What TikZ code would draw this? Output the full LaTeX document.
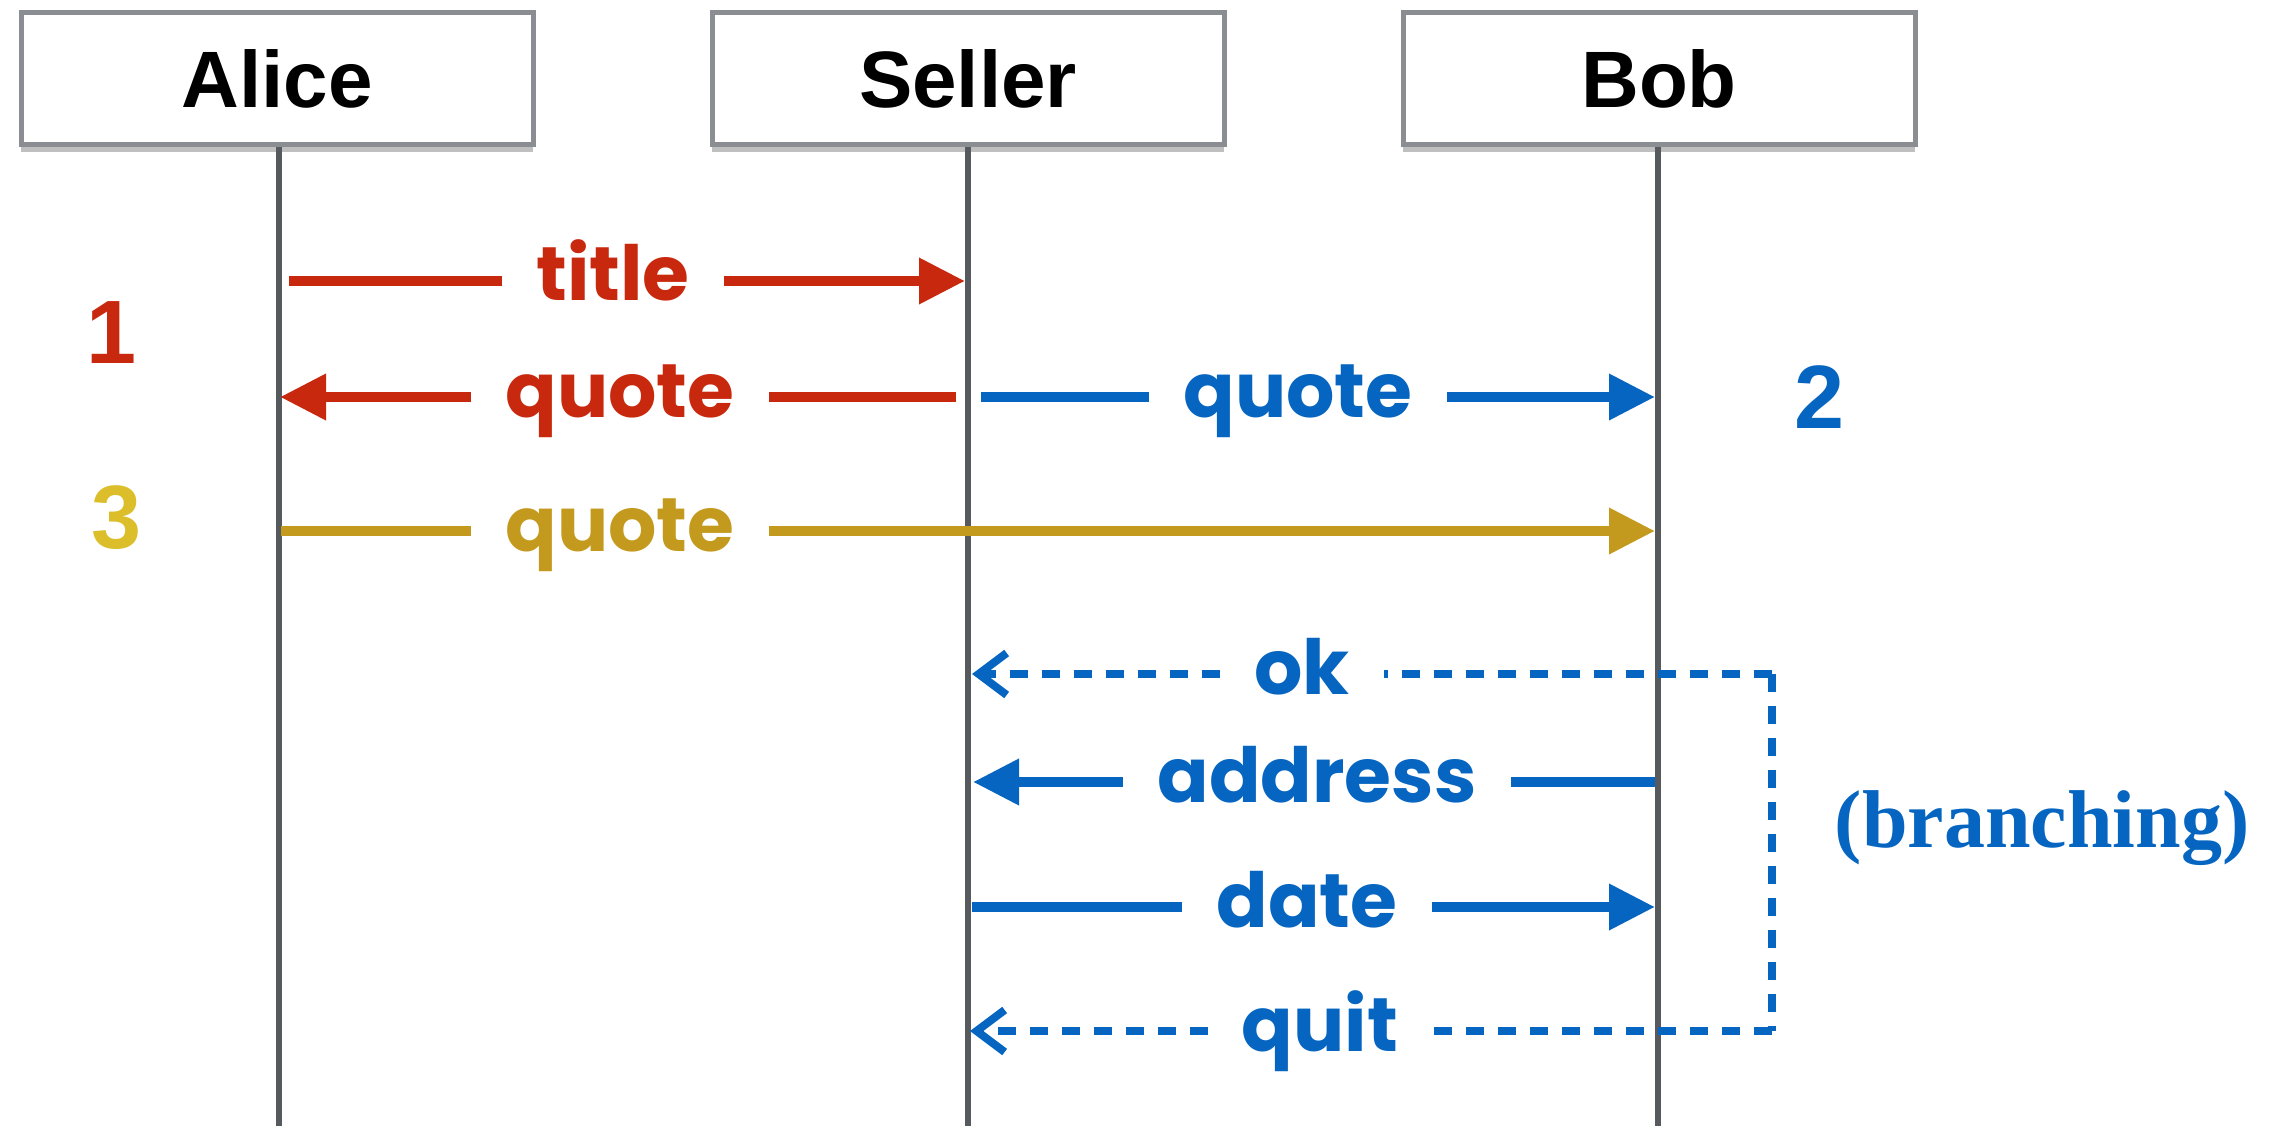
\documentclass[tikz,border=0pt]{standalone}
\usepackage{fontspec}
\setmainfont{Liberation Sans}
\newfontfamily\lblfont{Poppins}
\newfontfamily\brfont{Liberation Serif}
\usetikzlibrary{arrows.meta,shadows,calc}
\definecolor{cred}{HTML}{C8290E}
\definecolor{cblue}{HTML}{0565C0}
\definecolor{cgold}{HTML}{C49A1E}
\definecolor{cyel}{HTML}{DCBE2A}
\definecolor{cline}{HTML}{565A5F}
\definecolor{cbox}{HTML}{8A8D91}
\begin{document}
\begin{tikzpicture}[x=1pt,y=-1pt,
  actor/.style={draw=cbox, line width=5pt, fill=white, minimum width=512pt, minimum height=132pt, inner sep=0pt,
    font=\fontsize{80}{80}\selectfont\bfseries,
    drop shadow={shadow xshift=0pt, shadow yshift=-7pt, opacity=0.25, fill=black}},
  life/.style={draw=cline, line width=6pt},
  msg/.style={line width=10pt},
  solidtip/.style={-{Triangle[length=46pt,width=44pt]}},
  dashmsg/.style={line width=8pt, dash pattern=on 18pt off 14pt},
  opentip/.style={-{Straight Barb[length=28pt,width=42pt]}},
  lbl/.style={inner xsep=34pt, inner ysep=0pt, anchor=base, font=\lblfont\bfseries\fontsize{76}{76}\selectfont},
  num/.style={font=\fontsize{90}{90}\selectfont\bfseries},
]
\useasboundingbox (0,0) rectangle (2287,1126);

% actors
\node[actor] (alice) at (277,79) {Alice};
\node[actor] (seller) at (968,79) {Seller};
\node[actor] (bob) at (1659,79) {Bob};

% lifelines
\coordinate (aend) at (279,1126);
\coordinate (send) at (968,1126);
\coordinate (bend) at (1658,1126);
\draw[life] (alice.south -| aend) -- (aend);
\draw[life] (seller.south -| send) -- (send);
\draw[life] (bob.south -| bend) -- (bend);

% coordinates on lifelines
\coordinate (a1) at (289,281);  \coordinate (s1) at (965,281);
\coordinate (s2) at (956,397);  \coordinate (a2) at (280,397);
\coordinate (s3) at (981,397);  \coordinate (b3) at (1655,397);
\coordinate (a4) at (281,531);  \coordinate (b4) at (1655,531);
\coordinate (r5) at (1772,674); \coordinate (s5) at (972,674);
\coordinate (b6) at (1655,782); \coordinate (s6) at (973,782);
\coordinate (s7) at (972,907);  \coordinate (b7) at (1655,907);
\coordinate (r8) at (1772,1031);\coordinate (s8) at (970,1031);

% labels
\node[lbl, text=cred]  (t1) at (613,301) {title};
\node[lbl, text=cred]  (t2) at (620,417) {quote};
\node[lbl, text=cblue] (t3) at (1298,417) {quote};
\node[lbl, text=cgold] (t4) at (620,551) {quote};
\node[lbl, text=cblue] (t5) at (1302,694) {ok};
\node[lbl, text=cblue] (t6) at (1317,802) {address};
\node[lbl, text=cblue] (t7) at (1307,927) {date};
\node[lbl, text=cblue] (t8) at (1320,1051) {quit};

% messages
\draw[msg, cred] (a1) -- (a1 -| t1.west);
\draw[msg, cred, solidtip] (a1 -| t1.east) -- (s1);

\draw[msg, cred] (s2) -- (s2 -| t2.east);
\draw[msg, cred, solidtip] (s2 -| t2.west) -- (a2);

\draw[msg, cblue] (s3) -- (s3 -| t3.west);
\draw[msg, cblue, solidtip] (s3 -| t3.east) -- (b3);

\draw[msg, cgold] (a4) -- (a4 -| t4.west);
\draw[msg, cgold, solidtip] (a4 -| t4.east) -- (b4);

\draw[dashmsg, cblue] (r5) -- (r5 -| t5.east);
\draw[dashmsg, cblue, opentip] (r5 -| t5.west) -- (s5);

\draw[msg, cblue] (b6) -- (b6 -| t6.east);
\draw[msg, cblue, solidtip] (b6 -| t6.west) -- (s6);

\draw[msg, cblue] (s7) -- (s7 -| t7.west);
\draw[msg, cblue, solidtip] (s7 -| t7.east) -- (b7);

\draw[dashmsg, cblue] (r8) -- (r8 -| t8.east);
\draw[dashmsg, cblue, opentip] (r8 -| t8.west) -- (s8);

\draw[dashmsg, cblue] (r5) -- (r8);

% numbers
\node[num, text=cred]  (n1) at (112,333) {1};
\node[num, text=cblue] (n2) at (1820,397) {2};
\node[num, text=cyel]  (n3) at (117,518) {3};

\node[text=cblue, font=\brfont\bfseries\fontsize{82}{82}\selectfont] (br) at (2042,828) {(branching)};
\end{tikzpicture}
\end{document}
